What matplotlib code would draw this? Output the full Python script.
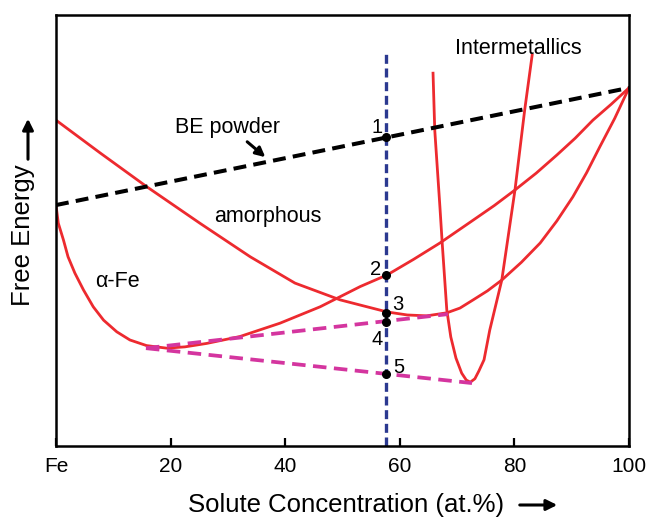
import matplotlib
matplotlib.use('Agg')
import matplotlib.pyplot as plt

plt.rcParams['font.family'] = ['Liberation Sans', 'DejaVu Sans']

# free energy curves (x in at.%, y in arbitrary units 0-100)
alpha_x = [0, 0.4, 1.3, 2.1, 3.3, 4.8, 6.5, 8.3, 10.6, 12.9, 15.8, 19.3, 22.5, 26.3, 32.1, 39.1,
           46.1, 53.1, 57.8, 62.4, 67.0, 72.8, 76.5, 80.1, 83.8, 87.4, 90.6, 93.7, 96.9, 100]
alpha_y = [55.9, 51.7, 47.8, 43.9, 40.1, 36.2, 32.3, 29.2, 26.5, 24.6, 23.3, 22.7, 23.0, 23.8, 25.4, 28.5,
           32.3, 37.0, 39.7, 43.3, 47.1, 52.4, 55.8, 59.4, 63.3, 67.5, 71.4, 75.6, 79.3, 83.1]

amorph_x = [0, 7.7, 15.9, 25.1, 33.9, 41.7, 49.6, 53.1, 57.8, 61.3, 64.7, 68.2, 70.5, 72.8,
            75.3, 77.8, 81.2, 84.5, 87.4, 90.2, 92.6, 94.9, 97.5, 100]
amorph_y = [75.6, 68.0, 60.1, 51.7, 43.9, 37.8, 33.9, 32.7, 31.1, 30.4, 30.2, 30.9, 32.0, 33.9,
            36.0, 38.5, 42.6, 47.1, 52.2, 57.8, 63.4, 69.4, 76.0, 83.1]

inter_x = [65.8, 66.1, 67.0, 67.4, 68.2, 68.9, 69.8, 70.8, 71.6, 72.3, 73.1, 73.8, 74.7, 75.7,
           77.8, 80.1, 81.8, 83.1]
inter_y = [86.5, 73.3, 55.5, 47.1, 31.6, 25.3, 20.4, 16.9, 15.3, 14.8, 15.6, 17.4, 20.0, 26.9,
           38.5, 59.4, 78.0, 90.7]

be_x = [0, 100]
be_y = [55.9, 83.1]

tan_upper_x = [15.7, 68.4]
tan_upper_y = [22.7, 30.6]
tan_lower_x = [15.7, 72.6]
tan_lower_y = [22.7, 14.6]

comp = 57.6
comp_top = 91.2
point_y = [71.6, 39.7, 30.9, 28.8, 16.7]
point_labels = ['1', '2', '3', '4', '5']
label_x = [56.0, 55.8, 59.7, 56.1, 59.9]
label_y = [72.6, 39.7, 31.6, 23.4, 16.9]

tick_pos = [0, 20, 40, 60, 80, 100]
tick_labels = ['Fe', '20', '40', '60', '80', '100']

red = '#ed2a2f'
magenta = '#d4359f'
blue = '#2b3990'

fig = plt.figure(figsize=(6.48, 5.18), dpi=100)
ax = fig.add_axes([56/648, 72/518, 573/648, 431/518])

ax.plot(alpha_x, alpha_y, color=red, lw=2.0, solid_joinstyle='round')
ax.plot(amorph_x, amorph_y, color=red, lw=2.0, solid_joinstyle='round')
ax.plot(inter_x, inter_y, color=red, lw=2.0, solid_joinstyle='round')

ax.plot(be_x, be_y, color='black', lw=2.9, dashes=(3.2, 1.8))
ax.plot(tan_upper_x, tan_upper_y, color=magenta, lw=2.7, dashes=(3.6, 2.0))
ax.plot(tan_lower_x, tan_lower_y, color=magenta, lw=2.7, dashes=(3.6, 2.0))
ax.plot([comp, comp], [0, comp_top], color=blue, lw=2.4, dashes=(2.7, 1.4))

ax.plot([comp] * len(point_y), point_y, 'o', color='black', ms=5.5, zorder=5)
for lx, ly, s in zip(label_x, label_y, point_labels):
    ax.text(lx, ly, s, fontsize=14.5, ha='center', va='baseline')

ax.text(29.9, 72.6, 'BE powder', fontsize=15.5, ha='center', va='baseline')
ax.annotate('', xy=(36.9, 66.6), xytext=(33.0, 71.0),
            arrowprops=dict(arrowstyle='-|>', lw=2.2, color='black', mutation_scale=14))
ax.text(36.9, 52.0, 'amorphous', fontsize=15.5, ha='center', va='baseline')
ax.text(10.7, 36.9, 'α-Fe', fontsize=15.5, ha='center', va='baseline')
ax.text(80.7, 91.0, 'Intermetallics', fontsize=15.5, ha='center', va='baseline')

ax.set_xlim(0, 100)
ax.set_ylim(0, 100)
ax.set_xticks(tick_pos)
ax.set_xticklabels(tick_labels)
ax.set_yticks([])
ax.tick_params(axis='x', direction='in', length=6, width=1.6, labelsize=15, pad=8)
for sp in ax.spines.values():
    sp.set_linewidth(1.8)

# axis titles with arrows
fig.text(188/648, 1 - 505/518, 'Solute Concentration (at.%)', fontsize=18.5,
         ha='left', va='center')
fig.patches.append(matplotlib.patches.FancyArrowPatch(
    (517/648, 1 - 505/518), (560/648, 1 - 505/518), transform=fig.transFigure,
    arrowstyle='-|>', mutation_scale=16, lw=2.2, color='black'))
fig.text(23/648, 1 - 235/518, 'Free Energy', fontsize=18.5, rotation=90,
         ha='center', va='center')
fig.patches.append(matplotlib.patches.FancyArrowPatch(
    (28/648, 1 - 162/518), (28/648, 1 - 116/518), transform=fig.transFigure,
    arrowstyle='-|>', mutation_scale=16, lw=2.2, color='black'))

fig.savefig('out.png', dpi=100)
